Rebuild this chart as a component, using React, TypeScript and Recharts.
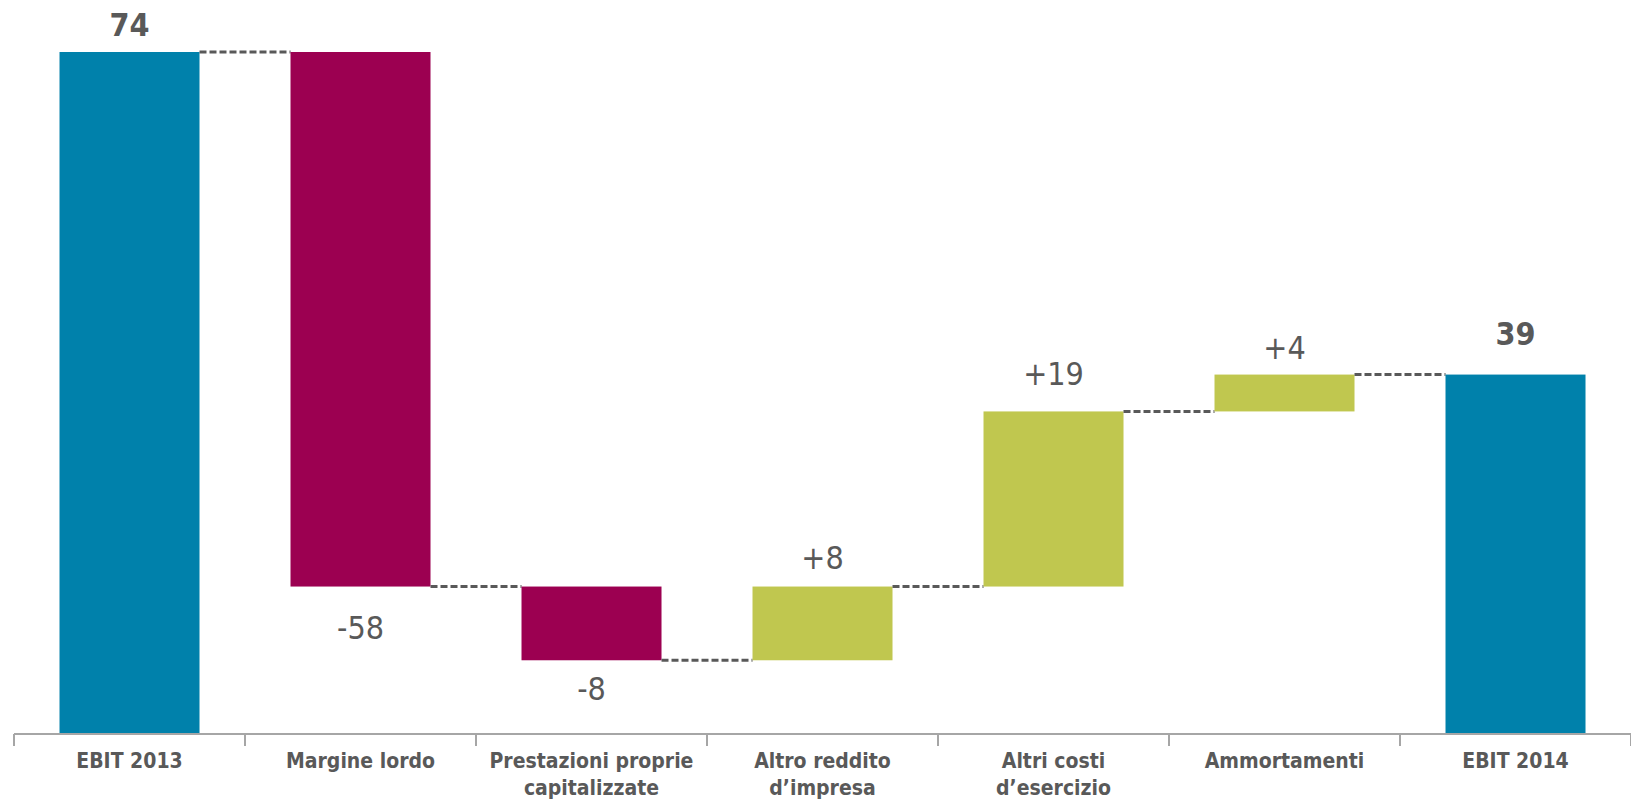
import React from 'react';
import { BarChart, Bar, XAxis, YAxis, Cell, LabelList } from 'recharts';

const categories = [
  'EBIT 2013',
  'Margine lordo',
  'Prestazioni proprie\ncapitalizzate',
  'Altro reddito\nd’impresa',
  'Altri costi\nd’esercizio',
  'Ammortamenti',
  'EBIT 2014',
];
const deltas = [74, -58, -8, 8, 19, 4, 39];
const kinds = ['total', 'delta', 'delta', 'delta', 'delta', 'delta', 'total'];

const TEAL = '#0081AB';
const PLUM = '#9C0051';
const OLIVE = '#C0C74F';
const TEXT = '#595959';
const FONT = "'Liberation Sans Narrow', 'DejaVu Sans Condensed', sans-serif";

// distance of each value label from its bar edge (px)
const labelGap = [16, 52, 40, 18, 26, 16, 30];

// running totals -> invisible base + visible bar
let running = 0;
const chartData = categories.map((name, i) => {
  const d = deltas[i];
  let base: number;
  let value: number;
  let end: number;
  if (kinds[i] === 'total') {
    base = 0;
    value = d;
    end = d;
  } else if (d >= 0) {
    base = running;
    value = d;
    end = running + d;
  } else {
    base = running + d;
    value = -d;
    end = running + d;
  }
  running = end;
  return { name, base, value, delta: d, kind: kinds[i] };
});

const barColor = (i: number) => {
  if (kinds[i] === 'total') return TEAL;
  return deltas[i] < 0 ? PLUM : OLIVE;
};

const BarWithConnector = (props: any) => {
  const { x, y, width, height, index, fill } = props;
  const last = index === chartData.length - 1;
  const negative = chartData[index].kind !== 'total' && chartData[index].delta < 0;
  const lineY = negative ? y + height : y;
  const gap = (1617 / chartData.length) - width;
  return (
    <g>
      <rect x={x} y={y} width={width} height={height} fill={fill} />
      {!last && (
        <line
          x1={x + width}
          x2={x + width + gap}
          y1={lineY}
          y2={lineY}
          stroke={TEXT}
          strokeWidth={3}
          strokeDasharray="7 3"
        />
      )}
    </g>
  );
};

const ValueLabel = (props: any) => {
  const { x, y, width, height, index } = props;
  const row = chartData[index];
  const cx = x + width / 2;
  const gap = labelGap[index];
  if (row.kind === 'total') {
    return (
      <text x={cx} y={y - gap} textAnchor="middle" fill={TEXT} fontSize={32} fontWeight="bold" fontFamily={FONT}>
        {row.delta}
      </text>
    );
  }
  if (row.delta < 0) {
    return (
      <text x={cx} y={y + height + gap} textAnchor="middle" fill={TEXT} fontSize={32} fontFamily={FONT}>
        {row.delta}
      </text>
    );
  }
  return (
    <text x={cx} y={y - gap} textAnchor="middle" fill={TEXT} fontSize={32} fontFamily={FONT}>
      {'+' + row.delta}
    </text>
  );
};

const CategoryTick = (props: any) => {
  const { x, y, payload, index } = props;
  const half = payload && payload.offset ? payload.offset : 115.5;
  const lines = String(payload.value).split('\n');
  return (
    <g>
      <line x1={x - half} x2={x - half} y1={y - 8} y2={y + 4} stroke="#A6A6A6" strokeWidth={2} />
      {index === categories.length - 1 && (
        <line x1={x + half} x2={x + half} y1={y - 8} y2={y + 4} stroke="#A6A6A6" strokeWidth={2} />
      )}
      <text x={x} y={y + 26} textAnchor="middle" fill={TEXT} fontSize={21} fontWeight="bold" fontFamily={FONT}>
        {lines.map((l, i) => (
          <tspan key={i} x={x} dy={i === 0 ? 0 : 27}>
            {l}
          </tspan>
        ))}
      </text>
    </g>
  );
};

const App: React.FC = () => {
  return (
    <div style={{ position: 'absolute', left: 0, top: 0, background: '#fff' }}>
      <BarChart
        width={1631}
        height={803}
        data={chartData}
        margin={{ top: 52, right: 0, bottom: 0, left: 14 }}
        barCategoryGap="19.7%"
      >
        <XAxis
          dataKey="name"
          interval={0}
          height={69}
          tickLine={false}
          axisLine={{ stroke: '#A6A6A6', strokeWidth: 2 }}
          tick={<CategoryTick />}
        />
        <YAxis hide domain={[0, 74]} />
        <Bar dataKey="base" stackId="w" fill="transparent" isAnimationActive={false} />
        <Bar dataKey="value" stackId="w" isAnimationActive={false} shape={<BarWithConnector />}>
          {chartData.map((_, i) => (
            <Cell key={i} fill={barColor(i)} />
          ))}
          <LabelList dataKey="value" content={<ValueLabel />} />
        </Bar>
      </BarChart>
    </div>
  );
};

export default App;
